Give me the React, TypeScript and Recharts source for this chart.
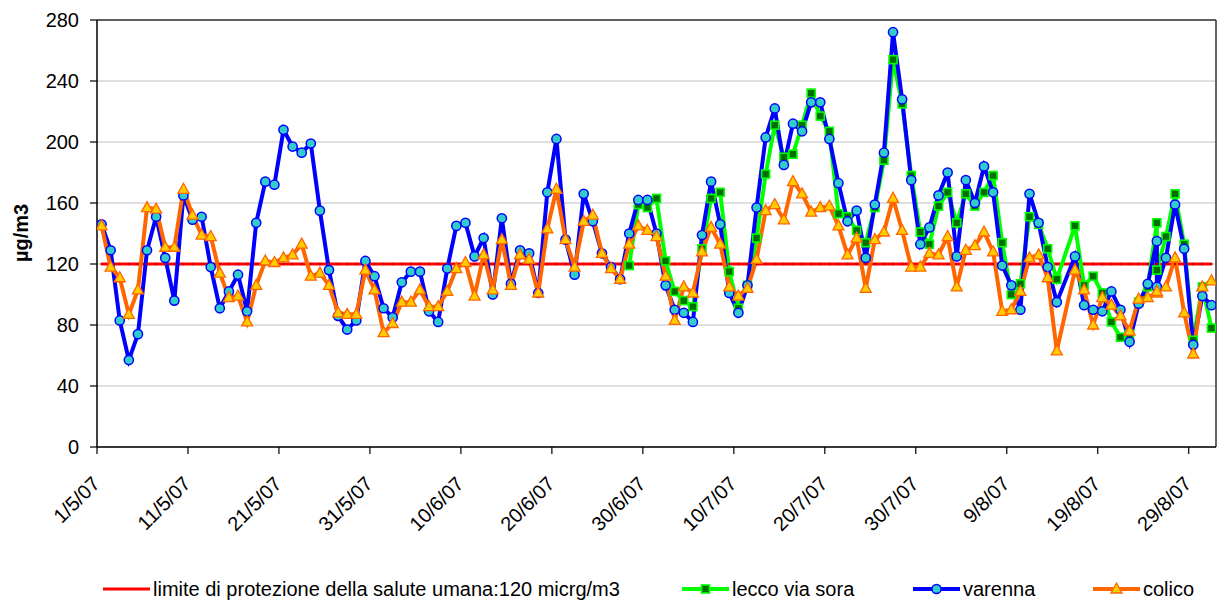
import React from 'react';
import { LineChart, Line, XAxis, YAxis, CartesianGrid, ReferenceLine, Legend } from 'recharts';

const FONT = '"Liberation Sans", Arial, Helvetica, sans-serif';

// Dates as they appear in the source table (15/8 missing, 25/8 twice)
const dates = [
  '1/5/07','2/5/07','3/5/07','4/5/07','5/5/07','6/5/07','7/5/07','8/5/07','9/5/07','10/5/07',
  '11/5/07','12/5/07','13/5/07','14/5/07','15/5/07','16/5/07','17/5/07','18/5/07','19/5/07','20/5/07',
  '21/5/07','22/5/07','23/5/07','24/5/07','25/5/07','26/5/07','27/5/07','28/5/07','29/5/07','30/5/07','31/5/07',
  '1/6/07','2/6/07','3/6/07','4/6/07','5/6/07','6/6/07','7/6/07','8/6/07','9/6/07','10/6/07',
  '11/6/07','12/6/07','13/6/07','14/6/07','15/6/07','16/6/07','17/6/07','18/6/07','19/6/07','20/6/07',
  '21/6/07','22/6/07','23/6/07','24/6/07','25/6/07','26/6/07','27/6/07','28/6/07','29/6/07','30/6/07',
  '1/7/07','2/7/07','3/7/07','4/7/07','5/7/07','6/7/07','7/7/07','8/7/07','9/7/07','10/7/07',
  '11/7/07','12/7/07','13/7/07','14/7/07','15/7/07','16/7/07','17/7/07','18/7/07','19/7/07','20/7/07',
  '21/7/07','22/7/07','23/7/07','24/7/07','25/7/07','26/7/07','27/7/07','28/7/07','29/7/07','30/7/07','31/7/07',
  '1/8/07','2/8/07','3/8/07','4/8/07','5/8/07','6/8/07','7/8/07','8/8/07','9/8/07','10/8/07',
  '11/8/07','12/8/07','13/8/07','14/8/07','16/8/07','17/8/07','18/8/07','19/8/07','20/8/07',
  '21/8/07','22/8/07','23/8/07','24/8/07','25/8/07','25/8/07','26/8/07','27/8/07','28/8/07','29/8/07','30/8/07','31/8/07',
];

const tickLabels = ['1/5/07','11/5/07','21/5/07','31/5/07','10/6/07','20/6/07','30/6/07','10/7/07','20/7/07','30/7/07','9/8/07','19/8/07','29/8/07'];
const yTicks = [0, 40, 80, 120, 160, 200, 240, 280];

const limitValue = 120;

const varenna = [
  146,129,83,57,74,129,151,124,96,165,
  149,151,118,91,102,113,89,147,174,172,
  208,197,193,199,155,116,86,77,83,122,
  112,91,85,108,115,115,89,82,117,145,
  147,125,137,100,150,107,129,127,101,167,
  202,136,113,166,148,127,118,110,140,162,
  162,140,106,90,88,82,139,174,146,101,
  88,106,157,203,222,185,212,207,226,226,
  202,173,148,155,124,159,193,272,228,175,
  133,144,165,180,125,175,160,184,167,119,
  106,90,166,147,118,95,
  125,93,90,89,102,90,69,94,107,135,
  105,
  124,159,130,67,99,93,
];

const colico = [
  145,118,111,87,103,157,156,131,131,169,
  152,139,138,114,98,99,82,106,122,121,
  124,126,133,112,114,106,88,87,87,116,
  103,75,81,95,95,103,92,92,102,117,
  121,99,126,103,136,106,126,123,101,143,
  169,136,118,148,152,127,117,110,133,145,
  142,138,112,83,105,101,128,144,133,105,
  99,104,123,155,159,149,174,166,154,157,
  158,145,126,137,104,136,141,163,142,118,
  118,127,126,138,105,129,132,141,128,89,
  90,102,124,126,111,63,
  116,103,80,98,93,86,76,97,98,101,
  102,
  105,124,88,61,105,109,
];

const lecco = [
  null,null,null,null,null,null,null,null,null,null,
  null,null,null,null,null,null,null,null,null,null,
  null,null,null,null,null,null,null,null,null,null,
  null,null,null,null,null,null,null,null,null,null,
  null,null,null,null,null,null,null,null,null,null,
  null,null,null,null,null,null,null,null,119,159,
  157,163,122,102,96,92,130,163,167,115,
  91,106,137,179,211,190,192,211,232,217,
  207,153,151,142,134,157,188,254,225,178,
  141,133,158,167,147,166,158,167,178,134,
  100,107,151,146,130,110,
  145,106,112,101,82,72,74,95,105,147,
  116,
  138,166,133,70,105,78,
];

const seriesNames = {
  limit: 'limite di protezione della salute umana:120 micrg/m3',
  lecco: 'lecco via sora',
  varenna: 'varenna',
  colico: 'colico',
};

const COLORS = {
  limit: '#FF0000',
  lecco: '#00FF00',
  leccoFill: '#006E00',
  varenna: '#0000FF',
  varennaFill: '#33CCCC',
  colico: '#FF6600',
  colicoFill: '#FFCC00',
};

const DAY0 = Date.UTC(2007, 4, 1);
function dayIndex(s: string): number {
  const [d, m] = s.split('/').map(Number);
  return Math.round((Date.UTC(2007, m - 1, d) - DAY0) / 86400000);
}

const rows = dates.map((dt, i) => ({
  x: dayIndex(dt),
  limit: limitValue,
  lecco: lecco[i],
  varenna: varenna[i],
  colico: colico[i],
}));

const xTicks = tickLabels.map((_, k) => k * 10 - 0.5);

function bad(v: any) {
  return v == null || Number.isNaN(v);
}

function SquareDot(props: any) {
  const { cx, cy, index, value } = props;
  if (bad(cx) || bad(cy) || value == null) return <g key={`sq-${index}`} />;
  return <rect key={`sq-${index}`} x={cx - 4} y={cy - 4} width={8} height={8} fill={COLORS.leccoFill} stroke={COLORS.lecco} strokeWidth={1.6} />;
}

function CircleDot(props: any) {
  const { cx, cy, index, value } = props;
  if (bad(cx) || bad(cy) || value == null) return <g key={`ci-${index}`} />;
  return <circle key={`ci-${index}`} cx={cx} cy={cy} r={4.6} fill={COLORS.varennaFill} stroke={COLORS.varenna} strokeWidth={1.5} />;
}

function TriangleDot(props: any) {
  const { cx, cy, index, value } = props;
  if (bad(cx) || bad(cy) || value == null) return <g key={`tr-${index}`} />;
  const pts = `${cx},${cy - 6} ${cx + 5.5},${cy + 4} ${cx - 5.5},${cy + 4}`;
  return <polygon key={`tr-${index}`} points={pts} fill={COLORS.colicoFill} stroke={COLORS.colico} strokeWidth={1.3} />;
}

function LimitDot(props: any) {
  const { cx, cy, index } = props;
  if (bad(cx) || bad(cy)) return <g key={`li-${index}`} />;
  return <circle key={`li-${index}`} cx={cx} cy={cy} r={1.2} fill="#CC0000" />;
}

function XTick(props: any) {
  const { x, y, payload } = props;
  const k = Math.round((payload.value + 0.5) / 10);
  const label = tickLabels[k] ?? '';
  const ax = x + 4;
  const ay = y + 29;
  return (
    <text x={ax} y={ay} textAnchor="end" fontSize={20} fill="#000" fontFamily={FONT} transform={`rotate(-45, ${ax}, ${ay})`}>
      {label}
    </text>
  );
}

function YTitle() {
  return (
    <text x={28} y={233} textAnchor="middle" fontSize={20} fontWeight="bold" fill="#000" fontFamily={FONT} transform="rotate(-90, 28, 233)">
      µg/m3
    </text>
  );
}

function LegendIcon({ kind }: { kind: string }) {
  const y = 8;
  if (kind === 'limit') {
    return (
      <svg width={47} height={16}>
        <line x1={0} y1={y} x2={47} y2={y} stroke={COLORS.limit} strokeWidth={3} />
      </svg>
    );
  }
  const stroke = kind === 'lecco' ? COLORS.lecco : kind === 'varenna' ? COLORS.varenna : COLORS.colico;
  return (
    <svg width={47} height={16}>
      <line x1={0} y1={y} x2={47} y2={y} stroke={stroke} strokeWidth={4} />
      {kind === 'lecco' && <rect x={19.5} y={y - 4} width={8} height={8} fill={COLORS.leccoFill} stroke={COLORS.lecco} strokeWidth={1.6} />}
      {kind === 'varenna' && <circle cx={23.5} cy={y} r={4.6} fill={COLORS.varennaFill} stroke={COLORS.varenna} strokeWidth={1.5} />}
      {kind === 'colico' && (
        <polygon points={`23.5,${y - 6} 29,${y + 4} 18,${y + 4}`} fill={COLORS.colicoFill} stroke={COLORS.colico} strokeWidth={1.3} />
      )}
    </svg>
  );
}

const legendOrder = [
  { key: 'limit', left: 103 },
  { key: 'lecco', left: 682 },
  { key: 'varenna', left: 913 },
  { key: 'colico', left: 1093 },
];

function renderLegend() {
  return (
    <div style={{ position: 'relative', width: 1219, height: 28, fontFamily: FONT, fontSize: 20, color: '#000' }}>
      {legendOrder.map((it) => (
        <div key={it.key} style={{ position: 'absolute', left: it.left, top: 0, height: 28, display: 'flex', alignItems: 'center', whiteSpace: 'nowrap' }}>
          <LegendIcon kind={it.key} />
          <span style={{ marginLeft: 3, lineHeight: '28px' }}>{(seriesNames as any)[it.key]}</span>
        </div>
      ))}
    </div>
  );
}

export default function App() {
  return (
    <div style={{ position: 'absolute', left: 0, top: 0, width: 1219, height: 603, background: '#fff', fontFamily: FONT }}>
      <LineChart width={1219} height={603} data={rows} margin={{ top: 20, right: 3, bottom: 0, left: 0 }}>
        <CartesianGrid horizontal={true} vertical={false} stroke="#C0C0C0" strokeWidth={1} />
        <XAxis
          type="number"
          dataKey="x"
          domain={[-0.5, 122.5]}
          allowDataOverflow
          ticks={xTicks}
          interval={0}
          tick={<XTick />}
          tickSize={7}
          tickLine={{ stroke: '#000', strokeWidth: 1.2 }}
          axisLine={{ stroke: '#000', strokeWidth: 1.5 }}
          height={128}
        />
        <YAxis
          type="number"
          domain={[0, 280]}
          ticks={yTicks}
          interval={0}
          width={97}
          tickSize={7}
          tickMargin={11}
          tick={{ fontSize: 20, fill: '#000', fontFamily: FONT }}
          tickLine={{ stroke: '#000', strokeWidth: 1.2 }}
          axisLine={{ stroke: '#000', strokeWidth: 1.5 }}
          label={<YTitle />}
        />
        <ReferenceLine y={280} stroke="#333333" strokeWidth={1.5} />
        <ReferenceLine x={122.5} stroke="#333333" strokeWidth={1.5} />
        <Line dataKey="limit" name={seriesNames.limit} stroke={COLORS.limit} strokeWidth={3} dot={<LimitDot />} activeDot={false} isAnimationActive={false} type="linear" />
        <Line dataKey="lecco" name={seriesNames.lecco} stroke={COLORS.lecco} strokeWidth={4} dot={<SquareDot />} activeDot={false} isAnimationActive={false} type="linear" connectNulls={false} />
        <Line dataKey="varenna" name={seriesNames.varenna} stroke={COLORS.varenna} strokeWidth={4} dot={<CircleDot />} activeDot={false} isAnimationActive={false} type="linear" />
        <Line dataKey="colico" name={seriesNames.colico} stroke={COLORS.colico} strokeWidth={4} dot={<TriangleDot />} activeDot={false} isAnimationActive={false} type="linear" />
        <Legend verticalAlign="bottom" content={renderLegend} wrapperStyle={{ left: 0, width: 1219, height: 28 }} />
      </LineChart>
    </div>
  );
}
